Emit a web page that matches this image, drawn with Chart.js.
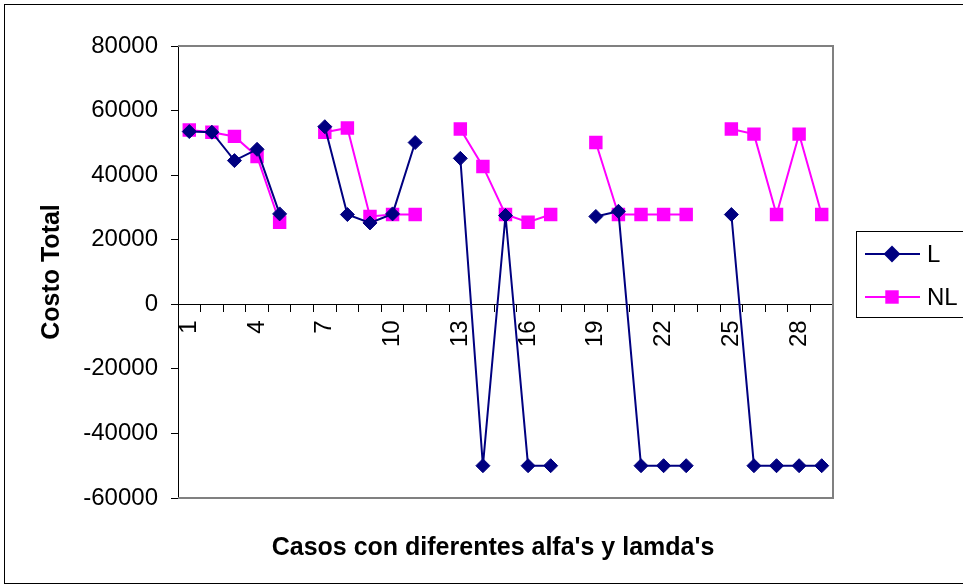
<!DOCTYPE html>
<html>
<head>
<meta charset="utf-8">
<script src="https://cdn.jsdelivr.net/npm/chart.js@4/dist/chart.umd.min.js"></script>
<style>
  html, body { margin: 0; padding: 0; background: #fff; }
  #wrap { width: 963px; height: 588px; position: relative; }
</style>
</head>
<body>
<div id="wrap"><canvas id="costChart"></canvas></div>
<script>
// Casos 1..29 (6, 12, 18, 24 sin dato)
const casos = ['1','2','3','4','5','6','7','8','9','10','11','12','13','14','15','16','17','18','19','20','21','22','23','24','25','26','27','28','29'];

const costoL = [53500, 53300, 44500, 48000, 28000, null,
                55000, 27800, 25200, 28000, 50100, null,
                45200, -50000, 27500, -50000, -50000, null,
                27200, 28800, -50000, -50000, -50000, null,
                27800, -50000, -50000, -50000, -50000];

const costoNL = [54000, 53300, 52000, 45800, 25400, null,
                 53300, 54600, 27200, 27800, 27800, null,
                 54300, 42700, 27800, 25400, 27800, null,
                 50100, 27800, 27800, 27800, 27800, null,
                 54300, 52700, 27800, 52700, 27800];

const yMin = -60000, yMax = 80000, yStep = 20000;

const FONT = '"Liberation Sans", Arial, sans-serif';

// marco exterior, borde del area de trazado, leyenda y titulo del eje X
const excelFrame = {
  id: 'excelFrame',
  afterDraw(chart) {
    const ctx = chart.ctx;
    const a = chart.chartArea;
    ctx.save();
    // borde del area de trazado (gris)
    ctx.strokeStyle = '#808080';
    ctx.lineWidth = 2;
    ctx.beginPath();
    ctx.moveTo(a.left, a.top);
    ctx.lineTo(a.right, a.top);
    ctx.lineTo(a.right, a.bottom);
    ctx.lineTo(a.left, a.bottom);
    ctx.stroke();

    // marco exterior
    ctx.strokeStyle = '#000';
    ctx.lineWidth = 1;
    ctx.strokeRect(4.5, 4.5, 1000, 579);

    // leyenda
    ctx.fillStyle = '#fff';
    ctx.fillRect(856, 231, 120, 86);
    ctx.strokeStyle = '#000';
    ctx.strokeRect(856.5, 231.5, 120, 86);
    const rows = [254, 297];
    chart.data.datasets.forEach((ds, i) => {
      const y = rows[i];
      ctx.strokeStyle = ds.borderColor;
      ctx.lineWidth = ds.borderWidth;
      ctx.beginPath();
      ctx.moveTo(865, y);
      ctx.lineTo(920, y);
      ctx.stroke();
      ctx.fillStyle = ds.pointBackgroundColor;
      ctx.strokeStyle = ds.pointBorderColor;
      Chart.helpers.drawPoint(ctx, { pointStyle: ds.pointStyle, radius: ds.pointRadius, rotation: 0, borderWidth: ds.pointBorderWidth }, 892, y);
      ctx.fillStyle = '#000';
      ctx.font = '24px ' + FONT;
      ctx.textAlign = 'left';
      ctx.textBaseline = 'middle';
      ctx.fillText(ds.label, 927, y + 1);
    });

    // titulo eje X
    ctx.fillStyle = '#000';
    ctx.font = 'bold 25px ' + FONT;
    ctx.textAlign = 'center';
    ctx.textBaseline = 'middle';
    ctx.fillText("Casos con diferentes alfa's y lamda's", 493, 548);
    ctx.restore();
  }
};

new Chart(document.getElementById('costChart'), {
  type: 'line',
  data: {
    labels: casos,
    datasets: [
      {
        label: 'L',
        data: costoL,
        borderColor: '#000080',
        backgroundColor: '#000080',
        borderWidth: 2,
        pointStyle: 'rectRot',
        pointRadius: 7,
        pointBackgroundColor: '#000080',
        pointBorderColor: '#000080',
        pointBorderWidth: 1,
        tension: 0
      },
      {
        label: 'NL',
        data: costoNL,
        borderColor: '#FF00FF',
        backgroundColor: '#FF00FF',
        borderWidth: 2,
        pointStyle: 'rect',
        pointRadius: 9.5,
        pointBackgroundColor: '#FF00FF',
        pointBorderColor: '#FF00FF',
        pointBorderWidth: 0,
        tension: 0
      }
    ]
  },
  options: {
    responsive: true,
    maintainAspectRatio: false,
    animation: false,
    layout: { padding: { left: 0, top: 46, right: 130, bottom: 90 } },
    plugins: {
      legend: { display: false },
      tooltip: { enabled: false }
    },
    scales: {
      x: {
        position: { y: 0 },
        offset: true,
        grid: { offset: true, drawOnChartArea: false, tickLength: 7, color: '#000' },
        border: { color: '#000', width: 1 },
        ticks: {
          autoSkip: false,
          minRotation: 90,
          maxRotation: 90,
          padding: 9,
          color: '#000',
          font: { family: FONT, size: 24 },
          callback: function (v, i) { return i % 3 === 0 ? this.getLabelForValue(v) : ''; }
        }
      },
      y: {
        min: yMin,
        max: yMax,
        afterFit: s => { s.width = 178; },
        grid: { drawOnChartArea: false, tickLength: 7, color: '#000' },
        border: { color: '#000', width: 1 },
        ticks: {
          stepSize: yStep,
          padding: 13,
          color: '#000',
          font: { family: FONT, size: 24 },
          callback: v => String(v)
        },
        title: {
          display: true,
          text: 'Costo Total',
          color: '#000',
          font: { family: FONT, size: 25, weight: 'bold' },
          padding: { top: 37, bottom: 0 }
        }
      }
    }
  },
  plugins: [excelFrame]
});
</script>
</body>
</html>
